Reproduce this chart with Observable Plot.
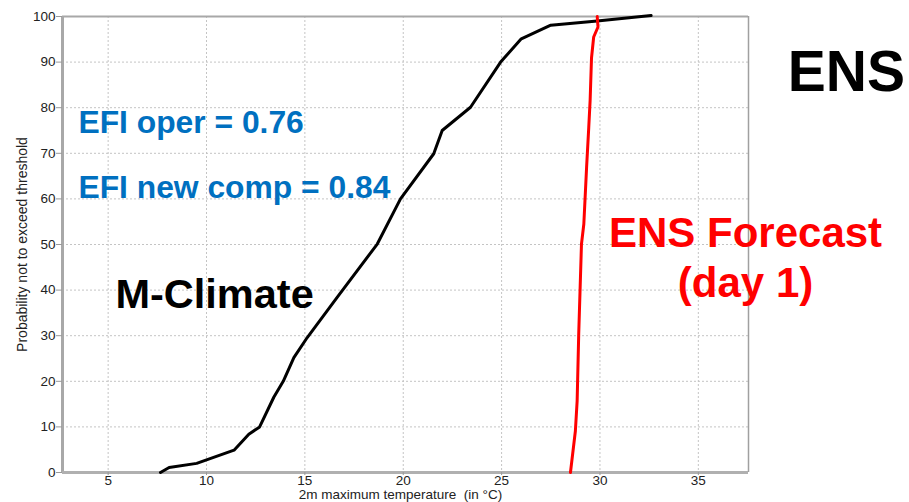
<!DOCTYPE html>
<html>
<head>
<meta charset="utf-8">
<script src="https://cdn.jsdelivr.net/npm/d3@7"></script>
<script src="https://cdn.jsdelivr.net/npm/@observablehq/plot@0.6"></script>
<style>
  html, body { margin: 0; padding: 0; background: #fff; }
  #chart { width: 909px; height: 502px; overflow: hidden; }
</style>
</head>
<body>
<div id="chart"></div>
<script>
// M-Climate cumulative distribution (temperature °C, probability %)
const climTemp = [7.66, 8.1, 9.5, 11.4, 12.15, 12.7, 13.42, 13.9, 14.44, 15.12, 16.64, 18.68, 19.86, 21.55, 21.98, 23.42, 24.95, 26.0, 27.5, 29.86, 32.6];
const climProb = [0, 1.1, 2.0, 4.9, 8.4, 10, 16.5, 20, 25.2, 29.6, 38.4, 50.1, 60, 69.9, 75, 80.1, 90, 95.1, 98.1, 99, 100.2];

// ENS forecast (day 1) cumulative distribution
const ensTemp = [28.5, 28.75, 28.84, 28.92, 29.06, 29.18, 29.32, 29.43, 29.5, 29.57, 29.68, 29.9, 29.86];
const ensProb = [0, 9.1, 15.7, 30.4, 50.1, 54.5, 66.9, 75.7, 81.6, 90.9, 95.5, 97.7, 100];

const xTicks = [5, 10, 15, 20, 25, 30, 35];
const yTicks = [0, 10, 20, 30, 40, 50, 60, 70, 80, 90, 100];
const xDomain = [2.68, 37.55];
const yDomain = [0, 100];

const xLabel = "2m maximum temperature  (in °C)";
const yLabel = "Probability not to exceed threshold";

// annotations: text, x (°C), y (%)
const efiLabels = [
  {text: "EFI oper = 0.76", x: 3.49, y: 74.55},
  {text: "EFI new comp = 0.84", x: 3.49, y: 60.2}
];
const climLabel = [{text: "M-Climate", x: 5.37, y: 36.0}];
const ensLabels = [
  {text: "ENS Forecast", x: 37.4, y: 49.5},
  {text: "(day 1)", x: 37.4, y: 38.4}
];
const ensTitle = [{text: "ENS", x: 39.55, y: 83.76}];

const clim = climTemp.map((t, i) => ({t, p: climProb[i]}));
const ens = ensTemp.map((t, i) => ({t, p: ensProb[i]}));

const font = "Liberation Sans, Arial, Helvetica, sans-serif";

const chart = Plot.plot({
  width: 909,
  height: 502,
  marginLeft: 62,
  marginTop: 16,
  marginRight: 161,
  marginBottom: 30,
  style: {fontFamily: font, background: "#fff", overflow: "visible"},
  x: {domain: xDomain, ticks: xTicks},
  y: {domain: yDomain, ticks: yTicks},
  marks: [
    // grid
    Plot.ruleX(xTicks, {stroke: "#c4c4c4", strokeWidth: 1, strokeDasharray: "2,2"}),
    Plot.ruleY(yTicks.slice(1, -1), {stroke: "#c4c4c4", strokeWidth: 1, strokeDasharray: "2,2"}),
    // frame
    Plot.ruleY([yDomain[1]], {stroke: "#a8a8a8", strokeWidth: 2}),
    Plot.ruleX([xDomain[1]], {stroke: "#a0a0a0", strokeWidth: 1.5}),
    Plot.ruleX([xDomain[0]], {stroke: "#a8a8a8", strokeWidth: 3}),
    Plot.ruleY([yDomain[0]], {stroke: "#b0b0b0", strokeWidth: 3}),
    // axes
    Plot.axisY(yTicks, {tickSize: 6, tickPadding: 1, fontSize: 13.5, stroke: "#999", fill: "#222", label: null}),
    Plot.axisX(xTicks, {tickSize: 3, tickPadding: 0, fontSize: 13.5, stroke: "#999", fill: "#222", label: null}),
    Plot.text([xLabel], {frameAnchor: "bottom", textAnchor: "middle", dx: -5, dy: 26.5, lineAnchor: "bottom", fontSize: 13.5, fill: "#222"}),
    Plot.text([yLabel], {frameAnchor: "left", textAnchor: "middle", dx: -36, rotate: -90, lineAnchor: "bottom", fontSize: 14, fill: "#222"}),
    // curves
    Plot.line(clim, {x: "t", y: "p", stroke: "#000", strokeWidth: 3, strokeLinejoin: "round", strokeLinecap: "round"}),
    Plot.line(ens, {x: "t", y: "p", stroke: "#ff0000", strokeWidth: 3, strokeLinejoin: "round", strokeLinecap: "round"}),
    // annotations
    Plot.text(efiLabels, {x: "x", y: "y", text: "text", textAnchor: "start", lineAnchor: "bottom", fontSize: 31.8, fontWeight: "bold", fill: "#0070c0"}),
    Plot.text(climLabel, {x: "x", y: "y", text: "text", textAnchor: "start", lineAnchor: "bottom", fontSize: 41.5, fontWeight: "bold", fill: "#000"}),
    Plot.text(ensLabels, {x: "x", y: "y", text: "text", textAnchor: "middle", lineAnchor: "bottom", fontSize: 42, fontWeight: "bold", fill: "#ff0000"}),
    Plot.text(ensTitle, {x: "x", y: "y", text: "text", textAnchor: "start", lineAnchor: "bottom", fontSize: 57, fontWeight: "bold", fill: "#000"})
  ]
});
document.getElementById("chart").appendChild(chart);
</script>
</body>
</html>
